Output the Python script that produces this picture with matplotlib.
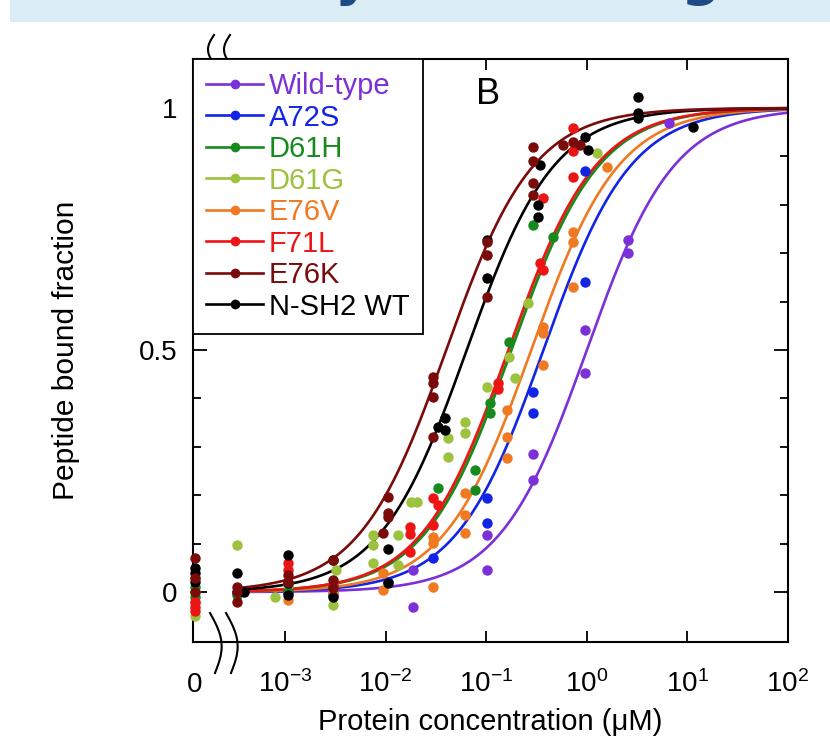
import numpy as np
import matplotlib.pyplot as plt
from matplotlib.lines import Line2D
from matplotlib.patches import Rectangle
from matplotlib.ticker import NullLocator

plt.rcParams['font.family'] = ['Liberation Sans', 'DejaVu Sans']
plt.rcParams['mathtext.fontset'] = 'custom'
plt.rcParams['mathtext.rm'] = 'Liberation Sans'
plt.rcParams['mathtext.default'] = 'regular'

# series: names, colours, fitted Kd (uM)
names = ['Wild-type', 'A72S', 'D61H', 'D61G', 'E76V', 'F71L', 'E76K', 'N-SH2 WT']
colors = ['#7B30D8', '#1224E6', '#178A1E', '#9CC23E', '#F07A22', '#EC1414', '#7A0B0B', '#000000']
kd = [1.0, 0.37, 0.178, 0.17, 0.28, 0.166, 0.040, 0.064]

# measured points (concentration in uM, 0 = no protein), bound fraction
wt_conc = [3.3e-4, 1.07e-3, 3.0e-3, 0.0185, 0.0185, 0.102, 0.102, 0.292, 0.292, 0.96, 0.96, 2.57, 2.57, 6.5]
wt_frac = [0.0, 0.0, 0.0, -0.03, 0.045, 0.045, 0.118, 0.231, 0.285, 0.452, 0.541, 0.727, 0.70, 0.969]

a72s_conc = [3.3e-4, 1.07e-3, 3.0e-3, 0.0106, 0.0296, 0.102, 0.102, 0.292, 0.292, 0.96, 0.96]
a72s_frac = [0.0, 0.0, -0.005, 0.02, 0.07, 0.194, 0.143, 0.413, 0.37, 0.87, 0.64]

d61h_conc = [0, 0, 3.3e-4, 1.07e-3, 3.0e-3, 0.0332, 0.0774, 0.0774, 0.109, 0.109, 0.169, 0.292, 0.462]
d61h_frac = [-0.01, 0.01, -0.006, 0.0, 0.01, 0.215, 0.252, 0.21, 0.39, 0.37, 0.517, 0.758, 0.733]

d61g_conc = [0, 0, 3.3e-4, 8.0e-4, 1.07e-3, 3.0e-3, 3.2e-3, 7.5e-3, 7.5e-3, 7.5e-3, 0.0133, 0.0133,
             0.018, 0.0205, 0.0417, 0.0417, 0.0615, 0.0615, 0.102, 0.169, 0.193, 0.26, 1.26]
d61g_frac = [-0.05, 0.03, 0.097, -0.01, 0.014, -0.027, 0.045, 0.118, 0.097, 0.06, 0.118, 0.056,
             0.186, 0.186, 0.318, 0.279, 0.351, 0.329, 0.424, 0.486, 0.442, 0.597, 0.907]

e76v_conc = [0, 0, 1.07e-3, 3.0e-3, 0.0094, 0.0094, 0.0296, 0.0296, 0.0296, 0.0615, 0.0615, 0.0615,
             0.161, 0.161, 0.161, 0.367, 0.367, 0.367, 0.729, 0.729, 0.729, 1.59]
e76v_frac = [-0.02, 0.0, -0.017, 0.0, 0.04, 0.004, 0.114, 0.101, 0.01, 0.205, 0.159, 0.122,
             0.376, 0.32, 0.277, 0.548, 0.535, 0.469, 0.744, 0.723, 0.63, 0.878]

f71l_conc = [0, 0, 0, 1.07e-3, 1.07e-3, 3.0e-3, 0.0175, 0.0175, 0.0175, 0.0296, 0.0332, 0.0296,
             0.131, 0.131, 0.343, 0.367, 0.367, 0.729, 0.729, 0.729]
f71l_frac = [-0.02, -0.03, -0.04, 0.06, 0.045, 0.014, 0.134, 0.12, 0.083, 0.195, 0.18, 0.138,
             0.432, 0.42, 0.68, 0.665, 0.814, 0.959, 0.91, 0.857]

e76k_conc = [0, 0, 0, 3.3e-4, 3.3e-4, 3.3e-4, 1.07e-3, 1.07e-3, 3.0e-3, 3.0e-3, 3.0e-3, 0.0094,
             0.0106, 0.0106, 0.0106, 0.0296, 0.0296, 0.0296, 0.0296, 0.102, 0.102, 0.102,
             0.292, 0.292, 0.292, 0.292, 0.58, 0.729, 0.856]
e76k_frac = [0.07, 0.03, 0.0, 0.01, 0.0, -0.02, 0.035, 0.02, 0.066, 0.025, 0.008, 0.122,
             0.196, 0.163, 0.155, 0.444, 0.432, 0.403, 0.32, 0.723, 0.696, 0.61,
             0.92, 0.89, 0.845, 0.82, 0.924, 0.93, 0.924]

nsh2_conc = [0, 0, 0, 3.3e-4, 3.9e-4, 1.07e-3, 1.07e-3, 1.07e-3, 3.0e-3, 3.0e-3, 0.0106, 0.0106,
             0.0389, 0.0332, 0.0389, 0.102, 0.102, 0.327, 0.327, 0.343, 0.96, 1.03, 3.23, 3.23, 3.23, 11.4]
nsh2_frac = [0.05, 0.04, 0.02, 0.04, 0.0, 0.077, 0.018, -0.006, 0.066, -0.01, 0.09, 0.018,
             0.36, 0.34, 0.335, 0.727, 0.649, 0.80, 0.775, 0.882, 0.94, 0.913, 1.023, 0.99, 0.98, 0.96]

concs = [wt_conc, a72s_conc, d61h_conc, d61g_conc, e76v_conc, f71l_conc, e76k_conc, nsh2_conc]
fracs = [wt_frac, a72s_frac, d61h_frac, d61g_frac, e76v_frac, f71l_frac, e76k_frac, nsh2_frac]

xtick_vals = [1e-3, 1e-2, 1e-1, 1e0, 1e1, 1e2]
xtick_labels = ['$10^{-3}$', '$10^{-2}$', '$10^{-1}$', '$10^{0}$', '$10^{1}$', '$10^{2}$']
ZERO_POS = 10 ** -3.9  # where the "0" concentration sits on the broken axis

fig = plt.figure(figsize=(8.3, 7.42), dpi=100)

# slide banner cut off at the top
fig.patches.append(Rectangle((10 / 830, 1 - 22 / 742), 1, 22 / 742, transform=fig.transFigure,
                             facecolor='#DBEDF4', edgecolor='none', zorder=0))
fig.text(352 / 830, 1 + 6.5 / 742, 'y', fontsize=40, fontweight='bold', color='#1F4A86',
         ha='center', va='baseline', family='DejaVu Sans')
fig.text(700 / 830, 1 + 6.5 / 742, 'g', fontsize=40, fontweight='bold', color='#1F4A86',
         ha='center', va='baseline', family='DejaVu Sans')

ax = fig.add_axes([193 / 830, 1 - 642 / 742, 595 / 830, 583 / 742])
ax.set_xscale('log')

xx = np.logspace(-3.45, 2, 400)
order = [3, 0, 1, 4, 2, 5, 7, 6]
for i in order:
    c = np.array(concs[i], dtype=float)
    x = np.where(c == 0, ZERO_POS, c)
    ax.plot(x, fracs[i], 'o', color=colors[i], ms=7.5, mew=0, zorder=3, clip_on=False)
    ax.plot(xx, xx / (kd[i] + xx), '-', color=colors[i], lw=1.9, zorder=2)

ax.set_xlim(10 ** -3.915, 100)
ax.set_ylim(-0.103, 1.101)

ax.set_xticks([ZERO_POS] + xtick_vals)
ax.set_xticklabels(['0'] + xtick_labels)
ax.xaxis.set_minor_locator(NullLocator())
ax.tick_params(axis='x', which='major', direction='in', length=8, width=1.3,
               top=True, labelsize=20, pad=36)
for lbl in ax.get_xticklabels():
    lbl.set_verticalalignment('baseline')
t0 = ax.xaxis.get_major_ticks()[0]
t0.tick1line.set_visible(False)
t0.tick2line.set_visible(False)

ax.set_yticks([0, 0.5, 1])
ax.set_yticklabels(['0', '0.5', '1'])
ax.set_yticks([0.1, 0.2, 0.3, 0.4, 0.6, 0.7, 0.8, 0.9], minor=True)
ax.tick_params(axis='y', which='major', direction='in', length=10, width=1.3,
               right=True, labelsize=20, pad=11)
ax.tick_params(axis='y', which='minor', direction='in', length=5.5, width=1.3, right=True)
for s in ax.spines.values():
    s.set_linewidth(1.5)

ax.set_xlabel('Protein concentration (μM)', fontsize=21)
ax.xaxis.set_label_coords(0.5, (642 - 708) / 583)
ax.set_ylabel('Peptide bound fraction', fontsize=21.5)
ax.yaxis.set_label_coords((80 - 193) / 595, 0.5)

ax.text((488 - 193) / 595, (642 - 94) / 583, 'B', transform=ax.transAxes,
        ha='center', va='center', fontsize=26)

# axis break marks
t = np.linspace(0, 1, 40)
for x0 in [210, 226]:
    bx = x0 + 5 * t + 9 * np.sin(np.pi * t)
    by = 613 + 60 * t
    ax.plot((bx - 193) / 595, (642 - by) / 583, color='black', lw=1.5,
            transform=ax.transAxes, clip_on=False, zorder=5)
for x0 in [214, 230]:
    bx = x0 - 6 * np.sin(np.pi * t)
    by = 35 + 29 * t
    ax.plot((bx - 193) / 595, (642 - by) / 583, color='black', lw=1.5,
            transform=ax.transAxes, clip_on=False, zorder=5)

handles = [Line2D([], [], color=c, marker='o', ms=7, mew=0, lw=1.9) for c in colors]
leg = ax.legend(handles, names, loc='upper left', bbox_to_anchor=(0, 1), borderaxespad=0,
                fontsize=21, fancybox=False, edgecolor='black', framealpha=1,
                handlelength=1.95, handletextpad=0.2, labelspacing=0.12, borderpad=0.45)
leg.get_frame().set_linewidth(1.3)
for txt, c in zip(leg.get_texts(), colors):
    txt.set_color(c)

fig.savefig('out.png', dpi=100)
